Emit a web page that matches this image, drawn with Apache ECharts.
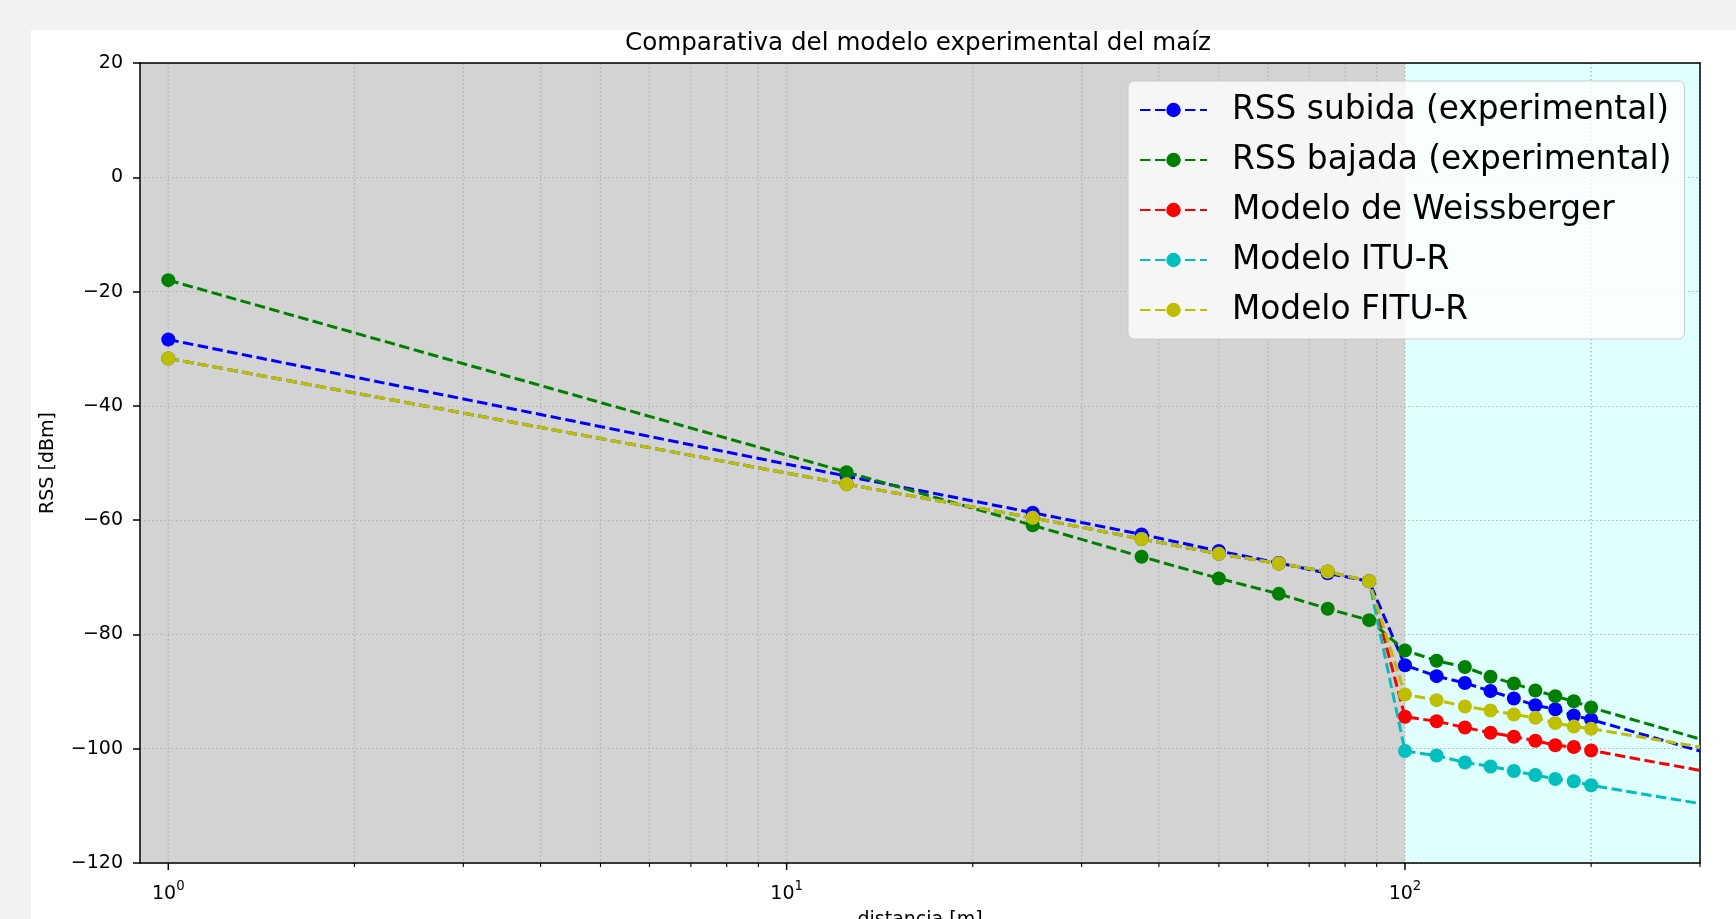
<!DOCTYPE html>
<html>
<head>
<meta charset="utf-8">
<script src="https://cdn.jsdelivr.net/npm/echarts@6/dist/echarts.min.js"></script>
<style>
  html, body { margin: 0; padding: 0; width: 1736px; height: 919px; background: #f2f2f2; overflow: hidden; }
  #paper { position: absolute; left: 31px; top: 30px; right: 0; bottom: 0; background: #ffffff; }
  #chart { position: absolute; left: 0; top: 0; width: 1736px; height: 919px; }
</style>
</head>
<body>
<div id="paper"></div>
<div id="chart"></div>
<script>
// ---- data ----
const distances = [1, 12.5, 25, 37.5, 50, 62.5, 75, 87.5, 100, 112.5, 125, 137.5, 150, 162.5, 175, 187.5, 200];
const edgeDistance = 300; // lines continue to the right border of the axes
const rssSubida   = [-28.4, -52.3, -58.7, -62.5, -65.4, -67.5, -69.3, -70.7, -85.4, -87.3, -88.5, -89.9, -91.2, -92.4, -93.1, -94.2, -94.9];
const rssSubidaEdge = -100.4;
const rssBajada   = [-18.0, -51.6, -60.9, -66.4, -70.2, -72.9, -75.5, -77.5, -82.8, -84.6, -85.7, -87.4, -88.6, -89.8, -90.8, -91.7, -92.8];
const rssBajadaEdge = -98.3;
const weissberger = [-31.7, -53.7, -59.6, -63.3, -65.9, -67.6, -69.0, -70.7, -94.4, -95.2, -96.3, -97.2, -97.9, -98.6, -99.4, -99.7, -100.3];
const weissbergerEdge = -103.8;
const ituR        = [-31.7, -53.7, -59.6, -63.3, -65.9, -67.6, -69.0, -70.7, -100.4, -101.2, -102.4, -103.1, -103.9, -104.6, -105.3, -105.7, -106.4];
const ituREdge = -109.6;
const fituR       = [-31.7, -53.7, -59.6, -63.3, -65.9, -67.6, -69.0, -70.7, -90.5, -91.5, -92.6, -93.3, -94.0, -94.6, -95.5, -96.1, -96.5];
const fituREdge = -99.7;

const seriesNames = ['RSS subida (experimental)', 'RSS bajada (experimental)', 'Modelo de Weissberger', 'Modelo ITU-R', 'Modelo FITU-R'];
const seriesValues = [rssSubida, rssBajada, weissberger, ituR, fituR];
const seriesEdges = [rssSubidaEdge, rssBajadaEdge, weissbergerEdge, ituREdge, fituREdge];
const seriesColors = ['#0000ff', '#008000', '#ff0000', '#00bfbf', '#bfbf00'];

const xLimits = [0.9, 300];
const yLimits = [-120, 20];
const yTickStep = 20;
const xMajorTicks = [1, 10, 100];
const xMinorTicks = [2, 3, 4, 5, 6, 7, 8, 9, 20, 30, 40, 50, 60, 70, 80, 90, 200, 300];
const shadeRegions = [[xLimits[0], 100], [100, xLimits[1]]];
const shadeColors = ['#d3d3d3', '#e0ffff'];

const FONT = 'DejaVu Sans';
const chart = echarts.init(document.getElementById('chart'), null, { renderer: 'canvas' });

const gridLineStyle = { stroke: '#b0b0b0', lineWidth: 1.2, lineDash: [1.5, 2.5] };

const dataSeries = seriesNames.map((name, i) => ({
  name: name,
  type: 'line',
  z: 3,
  xAxisIndex: 0, yAxisIndex: 0,
  symbol: 'circle',
  symbolSize: 14,
  showAllSymbol: true,
  animation: false,
  color: seriesColors[i],
  itemStyle: { color: seriesColors[i] },
  lineStyle: { color: seriesColors[i], width: 3, type: [10.5, 4.5] },
  emphasis: { disabled: true },
  data: distances.map((d, j) => [d, seriesValues[i][j]])
        .concat([{ value: [edgeDistance, seriesEdges[i]], symbol: 'none' }])
}));

const option = {
  backgroundColor: 'transparent',
  animation: false,
  title: {
    text: 'Comparativa del modelo experimental del maíz',
    left: 913, top: 26, textAlign: 'center',
    textStyle: { fontFamily: FONT, fontSize: 24.6, fontWeight: 'normal', color: '#000' }
  },
  legend: {
    orient: 'vertical',
    left: 1128, top: 81,
    selectedMode: false,
    data: seriesNames,
    itemWidth: 67, itemHeight: 18, itemGap: 12,
    padding: [10, 13, 10, 11],
    backgroundColor: 'rgba(255,255,255,0.8)',
    borderColor: '#cccccc', borderWidth: 1, borderRadius: 6,
    textStyle: { fontFamily: FONT, fontSize: 32.8, color: '#000', lineHeight: 38, padding: [0, 0, 0, 20] }
  },
  grid: { left: 140, top: 63, width: 1560, height: 800, show: false, outerBoundsMode: 'none', containLabel: false },
  xAxis: [{
    type: 'log', logBase: 10, min: xLimits[0], max: xLimits[1], z: 1,
    name: 'distancia [m]', nameLocation: 'middle', nameGap: 48,
    nameTextStyle: { fontFamily: FONT, fontSize: 19, color: '#000', verticalAlign: 'top' },
    axisLine: { show: true, onZero: false, lineStyle: { color: '#000', width: 1.5 } },
    axisTick: { show: false },
    splitLine: { show: false },
    minorTick: { show: false },
    axisLabel: {
      margin: 17, showMinLabel: false, showMaxLabel: false,
      formatter: function (v) {
        const e = Math.log10(v);
        if (Math.abs(e - Math.round(e)) > 1e-6) return '';
        return '{b|10}{sup|' + Math.round(e) + '}';
      },
      rich: {
        b: { fontFamily: FONT, fontSize: 19, color: '#000', lineHeight: 24, verticalAlign: 'bottom' },
        sup: { fontFamily: FONT, fontSize: 13.3, color: '#000', lineHeight: 14, verticalAlign: 'top' }
      }
    }
  }, {
    type: 'value', position: 'top', min: 0, max: 1, z: 1, gridIndex: 0,
    axisLine: { show: true, onZero: false, lineStyle: { color: '#000', width: 1.5 } },
    axisTick: { show: false }, axisLabel: { show: false }, splitLine: { show: false }
  }],
  yAxis: [{
    type: 'value', min: yLimits[0], max: yLimits[1], interval: yTickStep, z: 1,
    name: 'RSS [dBm]', nameLocation: 'middle', nameGap: 82, nameRotate: 90,
    nameTextStyle: { fontFamily: FONT, fontSize: 19, color: '#000' },
    axisLine: { show: true, onZero: false, lineStyle: { color: '#000', width: 1.5 } },
    axisTick: { show: true, inside: false, length: 7, lineStyle: { color: '#000', width: 1.5 } },
    splitLine: { show: true, lineStyle: { color: '#b0b0b0', width: 1.2, type: [1.5, 2.5] } },
    axisLabel: {
      margin: 17, fontFamily: FONT, fontSize: 19, color: '#000', padding: [2, 0, 0, 0],
      formatter: v => (v < 0 ? '\u2212' + Math.abs(v) : String(v))
    }
  }, {
    type: 'value', position: 'right', min: 0, max: 1, z: 1, gridIndex: 0,
    axisLine: { show: true, onZero: false, lineStyle: { color: '#000', width: 1.5 } },
    axisTick: { show: false }, axisLabel: { show: false }, splitLine: { show: false }
  }],
  series: [{
    type: 'custom', name: 'shading', z: 0, silent: true, clip: true,
    xAxisIndex: 0, yAxisIndex: 0,
    encode: { x: [0, 2], y: [1, 3] },
    data: shadeRegions.map((r, i) => [r[0], yLimits[1], r[1], yLimits[0], i]),
    renderItem: function (params, api) {
      const p0 = api.coord([api.value(0), api.value(1)]);
      const p1 = api.coord([api.value(2), api.value(3)]);
      return { type: 'rect', shape: { x: p0[0], y: p0[1], width: p1[0] - p0[0], height: p1[1] - p0[1] },
               style: { fill: shadeColors[api.value(4)] } };
    }
  }, {
    type: 'custom', name: 'xgrid', z: 1, silent: true, clip: false,
    xAxisIndex: 0, yAxisIndex: 0,
    encode: { x: 0, y: 1 },
    data: xMajorTicks.map(v => [v, 1]).concat(xMinorTicks.map(v => [v, 0])),
    renderItem: function (params, api) {
      const cs = params.coordSys;
      const x = api.coord([api.value(0), yLimits[0]])[0];
      const major = api.value(1) === 1;
      const bottom = cs.y + cs.height;
      return { type: 'group', children: [
        { type: 'line', shape: { x1: x, y1: cs.y, x2: x, y2: bottom }, style: gridLineStyle },
        { type: 'line', shape: { x1: x, y1: bottom, x2: x, y2: bottom + (major ? 7 : 4) },
          style: { stroke: '#000', lineWidth: major ? 1.5 : 1.1 } }
      ]};
    }
  }].concat(dataSeries)
};
chart.setOption(option);
</script>
</body>
</html>
